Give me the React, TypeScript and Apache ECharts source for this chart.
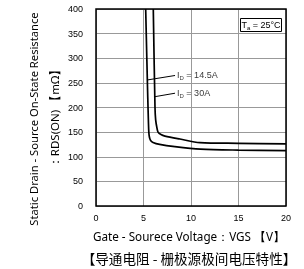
import React, { useEffect, useRef } from "react";
import * as echarts from "echarts";

const xTicks = [0, 5, 10, 15, 20];
const yTicks = [0, 50, 100, 150, 200, 250, 300, 350, 400];
const curve14_5A: [number, number][] = [
  [5.23, 400], [5.35, 300], [5.45, 220], [5.52, 170], [5.56, 150], [5.62, 140],
  [5.75, 133], [6.0, 129], [6.7, 125], [8.3, 120.5], [11, 115.5], [15, 113.5], [20, 112.4],
];
const curve30A: [number, number][] = [
  [6.03, 400], [6.21, 200], [6.28, 175], [6.42, 158], [6.53, 150], [6.84, 145],
  [7.26, 142], [8.84, 136], [10.95, 128.7], [15, 127.3], [20, 126],
];
const leader14_5A: [number, number][] = [[5.44, 256], [8.32, 265]];
const leader30A: [number, number][] = [[6.21, 222], [8.32, 229]];
const labelNames = ["14.5A", "30A"];

export default function App() {
  const ref = useRef<HTMLDivElement>(null);
  useEffect(() => {
    if (!ref.current) return;
    const chart = echarts.init(ref.current, null, { renderer: "svg" });
    const rich = {
      i: { fontSize: 9, fontFamily: "Liberation Sans", color: "#000" },
      sub: { fontSize: 6, fontFamily: "Liberation Sans", color: "#000", padding: [5, 0, 0, 0] },
      t: { fontSize: 9, fontFamily: "Liberation Sans", color: "#000" },
    };
    const leaderSeries = (pts: [number, number][]) => ({
      type: "line",
      data: pts,
      symbol: "none",
      silent: true,
      lineStyle: { color: "#000", width: 1 },
      z: 5,
    });
    const labelSeries = (pt: [number, number], name: string) => ({
      type: "scatter",
      data: [pt],
      symbolSize: 0,
      silent: true,
      label: {
        show: true,
        position: "right",
        distance: 2,
        formatter: `{i|I}{sub|D}{t| = ${name}}`,
        rich,
      },
    });
    chart.setOption({
      animation: false,
      grid: { left: 96, top: 9, width: 190, height: 197, show: true, borderColor: "#000", borderWidth: 1.5, z: 10 },
      xAxis: {
        type: "value",
        min: xTicks[0],
        max: xTicks[xTicks.length - 1],
        interval: 5,
        axisLine: { show: false },
        axisTick: { show: false },
        splitLine: { show: true, lineStyle: { color: "#999", width: 1 } },
        axisLabel: { margin: 7, fontSize: 9, color: "#000", fontFamily: "Liberation Sans" },
      },
      yAxis: {
        type: "value",
        min: yTicks[0],
        max: yTicks[yTicks.length - 1],
        interval: 50,
        axisLine: { show: false },
        axisTick: { show: false },
        splitLine: { show: true, lineStyle: { color: "#999", width: 1 } },
        axisLabel: { margin: 13, fontSize: 9, color: "#000", fontFamily: "Liberation Sans" },
      },
      series: [
        { type: "line", data: curve14_5A, symbol: "none", smooth: 0.3, lineStyle: { color: "#000", width: 1.7 } },
        { type: "line", data: curve30A, symbol: "none", smooth: 0.3, lineStyle: { color: "#000", width: 1.7 } },
        leaderSeries(leader14_5A),
        leaderSeries(leader30A),
        labelSeries(leader14_5A[1], labelNames[0]),
        labelSeries(leader30A[1], labelNames[1]),
      ],
      graphic: [
        {
          type: "text",
          x: 33,
          y: 119,
          rotation: Math.PI / 2,
          style: {
            text: "Static Drain - Source On-State Resistance",
            x: 0, y: 0,
            align: "center",
            verticalAlign: "middle",
            fontSize: 11.2,
            fontFamily: "Noto Sans",
            fill: "#000",
          },
        },
        {
          type: "text",
          x: 54,
          y: 116,
          rotation: Math.PI / 2,
          style: {
            text: "\uFF1ARDS(ON) \u3010m\u03A9\u3011",
            x: 0, y: 0,
            align: "center",
            verticalAlign: "middle",
            fontSize: 11.5,
            fontFamily: "Noto Sans",
            fill: "#000",
          },
        },
        {
          type: "text",
          x: 189,
          y: 236,
          style: {
            text: "Gate - Sourece Voltage\uFF1AVGS \u3010V\u3011",
            align: "center",
            verticalAlign: "middle",
            fontSize: 11.7,
            fontFamily: "Noto Sans",
            fill: "#000",
          },
        },
        {
          type: "text",
          x: 189,
          y: 258,
          style: {
            text: "\u3010导通电阻 - 栅极源极间电压特性\u3011",
            align: "center",
            verticalAlign: "middle",
            fontSize: 13.6,
            fontFamily: "Noto Sans CJK SC",
            fill: "#000",
          },
        },
        {
          type: "rect",
          shape: { x: 240.5, y: 18.5, width: 41, height: 13 },
          style: { fill: "#fff", stroke: "#000", lineWidth: 1 },
          z: 20,
        },
        {
          type: "text",
          x: 261,
          y: 25,
          z: 21,
          style: {
            text: "{i|T}{sub|a}{t| = 25°C}",
            align: "center",
            verticalAlign: "middle",
            rich,
          },
        },
      ],
    });
    return () => chart.dispose();
  }, []);
  return <div ref={ref} style={{ position: "fixed", left: 0, top: 0, width: 304, height: 269 }} />;
}
